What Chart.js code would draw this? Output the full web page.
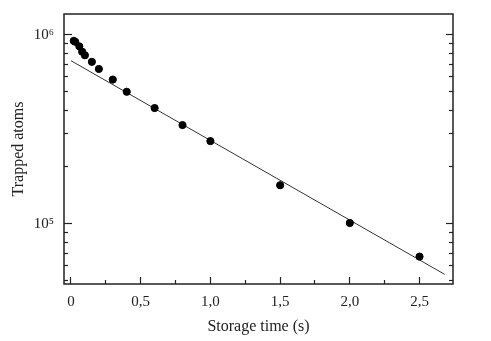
<!DOCTYPE html>
<html>
<head>
<meta charset="utf-8">
<script src="https://cdn.jsdelivr.net/npm/chart.js@4"></script>
<style>
  html, body { margin: 0; padding: 0; background: #fff; }
  #wrap { width: 491px; height: 341px; }
</style>
</head>
<body>
<div id="wrap"><canvas id="decay"></canvas></div>
<script>
// measured points
const timeS = [0.02, 0.03, 0.06, 0.08, 0.1, 0.15, 0.2, 0.3, 0.4, 0.6, 0.8, 1.0, 1.5, 2.0, 2.5];
const atoms = [9.3e5, 9.2e5, 8.7e5, 8.15e5, 7.8e5, 7.2e5, 6.6e5, 5.8e5, 5.0e5, 4.1e5, 3.33e5, 2.74e5, 1.6e5, 1.01e5, 6.7e4];

// exponential fit (straight on log axis)
const fitX = [0, 2.68];
const fitY = [7.3e5, 5.4e4];

// axis ticks
const xMajor = [0, 0.5, 1.0, 1.5, 2.0, 2.5];
const xMinor = [0.25, 0.75, 1.25, 1.75, 2.25];
const yMajor = [1e5, 1e6];
const yMinor = [5e4, 6e4, 7e4, 8e4, 9e4, 2e5, 3e5, 4e5, 5e5, 6e5, 7e5, 8e5, 9e5];

const serif = "'Liberation Serif', 'DejaVu Serif', serif";
const ink = '#222';

function setTicks(list) {
    return function (scale) { scale.ticks = list.map(v => ({ value: v })); };
}
function fixSize(w, h) {
    return function (s) {
        if (w !== null) s.width = w;
        if (h !== null) s.height = h;
        s.paddingTop = 0; s.paddingBottom = 0;
        s.paddingLeft = 0; s.paddingRight = 0;
    };
}

const frame = {
    id: 'frame',
    afterDraw(chart) {
        const a = chart.chartArea, c = chart.ctx;
        c.save();
        c.strokeStyle = ink;
        c.lineWidth = 1.5;
        c.strokeRect(a.left, a.top, a.right - a.left, a.bottom - a.top);
        c.restore();
    }
};

const supers = { '5': '⁵', '6': '⁶' };

new Chart(document.getElementById('decay'), {
    type: 'scatter',
    data: {
        datasets: [{
            label: 'data',
            data: timeS.map((t, i) => ({ x: t, y: atoms[i] })),
            backgroundColor: '#000',
            borderColor: '#000',
            pointRadius: 3.6,
            xAxisID: 'x',
            yAxisID: 'y'
        }, {
            label: 'fit',
            type: 'line',
            data: fitX.map((t, i) => ({ x: t, y: fitY[i] })),
            borderColor: '#333',
            borderWidth: 1,
            pointRadius: 0,
            fill: false,
            xAxisID: 'x',
            yAxisID: 'y'
        }]
    },
    options: {
        responsive: true,
        maintainAspectRatio: false,
        animation: false,
        layout: { padding: { left: 4, top: 14, right: 38, bottom: 0 } },
        plugins: { legend: { display: false }, tooltip: { enabled: false } },
        scales: {
            xMinor: {
                type: 'linear', position: 'bottom', weight: 0,
                min: -0.05, max: 2.74,
                afterBuildTicks: setTicks(xMinor),
                afterFit: fixSize(null, 0),
                ticks: { display: false },
                grid: { drawOnChartArea: false, tickLength: -4, tickColor: ink, tickWidth: 1.2 },
                border: { display: false }
            },
            x: {
                type: 'linear', position: 'bottom', weight: 1,
                min: -0.05, max: 2.74,
                afterBuildTicks: setTicks(xMajor),
                afterFit: fixSize(null, 57),
                ticks: {
                    autoSkip: false, maxRotation: 0, padding: 16, color: ink,
                    font: { family: serif, size: 15 },
                    callback: v => v === 0 ? '0' : v.toFixed(1).replace('.', ',')
                },
                grid: { drawOnChartArea: false, tickLength: -7, tickColor: ink, tickWidth: 1.2 },
                border: { display: false },
                title: { display: true, text: 'Storage time (s)', color: ink,
                         font: { family: serif, size: 16 }, padding: { top: 0, bottom: 5 } }
            },
            yMinor: {
                type: 'logarithmic', position: 'left', weight: 0,
                min: 4.8e4, max: 1.29e6,
                afterBuildTicks: setTicks(yMinor),
                afterFit: fixSize(0, null),
                ticks: { display: false },
                grid: { drawOnChartArea: false, tickLength: -4, tickColor: ink, tickWidth: 1.2 },
                border: { display: false }
            },
            y: {
                type: 'logarithmic', position: 'left', weight: 1,
                min: 4.8e4, max: 1.29e6,
                afterBuildTicks: setTicks(yMajor),
                afterFit: fixSize(60, null),
                ticks: {
                    autoSkip: false, padding: 18, color: ink,
                    font: { family: serif, size: 15 },
                    callback: v => '10' + supers[String(Math.round(Math.log10(v)))]
                },
                grid: { drawOnChartArea: false, tickLength: -8, tickColor: ink, tickWidth: 1.2 },
                border: { display: false },
                title: { display: true, text: 'Trapped atoms', color: ink,
                         font: { family: serif, size: 16 }, padding: { top: 5, bottom: 0 } }
            },
            yRMinor: {
                type: 'logarithmic', position: 'right', weight: 0,
                min: 4.8e4, max: 1.29e6,
                afterBuildTicks: setTicks(yMinor),
                afterFit: fixSize(0, null),
                ticks: { display: false },
                grid: { drawOnChartArea: false, tickLength: -4, tickColor: ink, tickWidth: 1.2 },
                border: { display: false }
            },
            yR: {
                type: 'logarithmic', position: 'right', weight: 1,
                min: 4.8e4, max: 1.29e6,
                afterBuildTicks: setTicks(yMajor),
                afterFit: fixSize(0, null),
                ticks: { display: false },
                grid: { drawOnChartArea: false, tickLength: -7, tickColor: ink, tickWidth: 1.2 },
                border: { display: false }
            }
        }
    },
    plugins: [frame]
});
</script>
</body>
</html>
